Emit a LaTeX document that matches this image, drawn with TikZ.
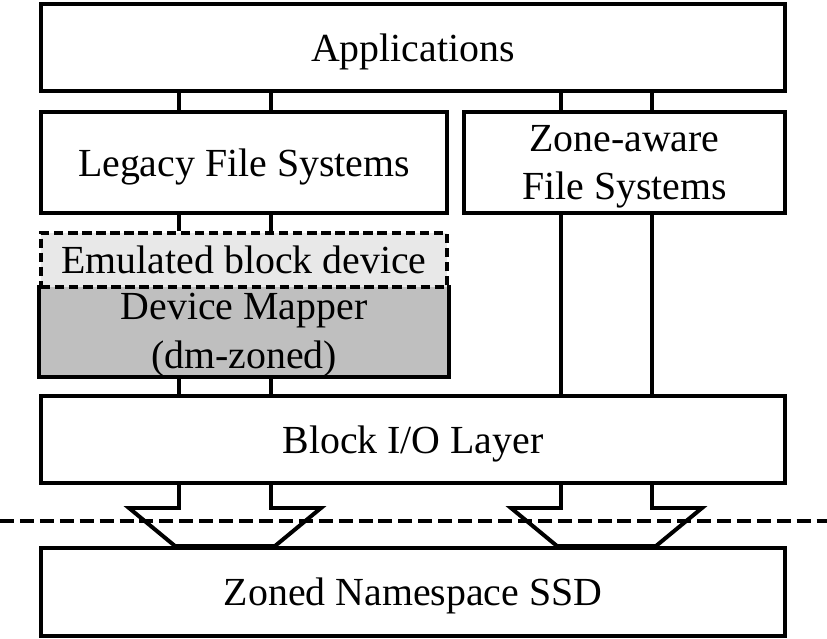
\documentclass[tikz,border=0pt]{standalone}
\usepackage{fontspec}
\setmainfont{Liberation Serif}
\usepackage{xcolor}
\usepackage{tikz}
\definecolor{emugray}{RGB}{232,232,232}
\definecolor{dmgray}{RGB}{191,191,191}
\usetikzlibrary{calc}

\tikzset{
  layer/.style={draw, rectangle, inner sep=0pt, text depth=0pt, align=center,
    font=\fontsize{34}{41.5}\selectfont},
  wide/.style={minimum width=22.32cm},
  half/.style={minimum width=12.18cm}
}

\begin{document}
\begin{tikzpicture}[x=0.03cm, y=-0.03cm, line width=3.4pt]
    \useasboundingbox (0,0) rectangle (827,639);

    % Layers
    \node[layer, wide, minimum height=2.61cm] (apps) at (413,47.5) {Applications};
    \node[layer, half, minimum height=3.03cm] (legacy) at (244,162.5) {Legacy File Systems};
    \node[layer, minimum width=9.63cm, minimum height=3.03cm] (zonefs) at (624.5,162.5) {Zone-aware\\File Systems};

    % Device mapper, open at the top
    \node[layer, half, draw=none, fill=dmgray, minimum height=2.64cm] (dm) at (244,331) {Device Mapper\\(dm-zoned)};
    \draw (dm.north west) -- (dm.south west) -- (dm.south east) -- (dm.north east);

    % Emulated block device
    \node[layer, half, fill=emugray, dash pattern=on 8pt off 4pt, minimum height=1.62cm] (emu) at (244,260) {Emulated block device};

    \node[layer, wide, minimum height=2.61cm] (bio) at (413,439.5) {Block I/O Layer};
    \node[layer, wide, minimum height=2.64cm] (ssd) at (413,592) {Zoned Namespace SSD};

    % Stem positions
    \coordinate (l1) at (179,0);
    \coordinate (l2) at (271,0);
    \coordinate (r1) at (561,0);
    \coordinate (r2) at (652,0);

    % Connectors
    \foreach \s in {l1,l2} {
        \draw (apps.south -| \s) -- (legacy.north -| \s);
        \draw (legacy.south -| \s) -- (emu.north -| \s);
        \draw (dm.south -| \s) -- (bio.north -| \s);
    }
    \foreach \s in {r1,r2} {
        \draw (apps.south -| \s) -- (zonefs.north -| \s);
        \draw (zonefs.south -| \s) -- (bio.north -| \s);
    }

    % Hollow arrows down to the SSD
    \foreach \a/\b in {l1/l2, r1/r2} {
        \draw (bio.south -| \a) -- ++(0,23) -- ++(-50,0)
            -- ($(ssd.north -| \a)+(-4,0)$) -- ($(ssd.north -| \b)+(4,0)$)
            -- ($(bio.south -| \b)+(50,23)$) -- ++(-50,0) -- (bio.south -| \b);
    }

    % Host / device boundary
    \draw[dash pattern=on 12pt off 5pt] (0,521) -- (827,521);
\end{tikzpicture}
\end{document}
